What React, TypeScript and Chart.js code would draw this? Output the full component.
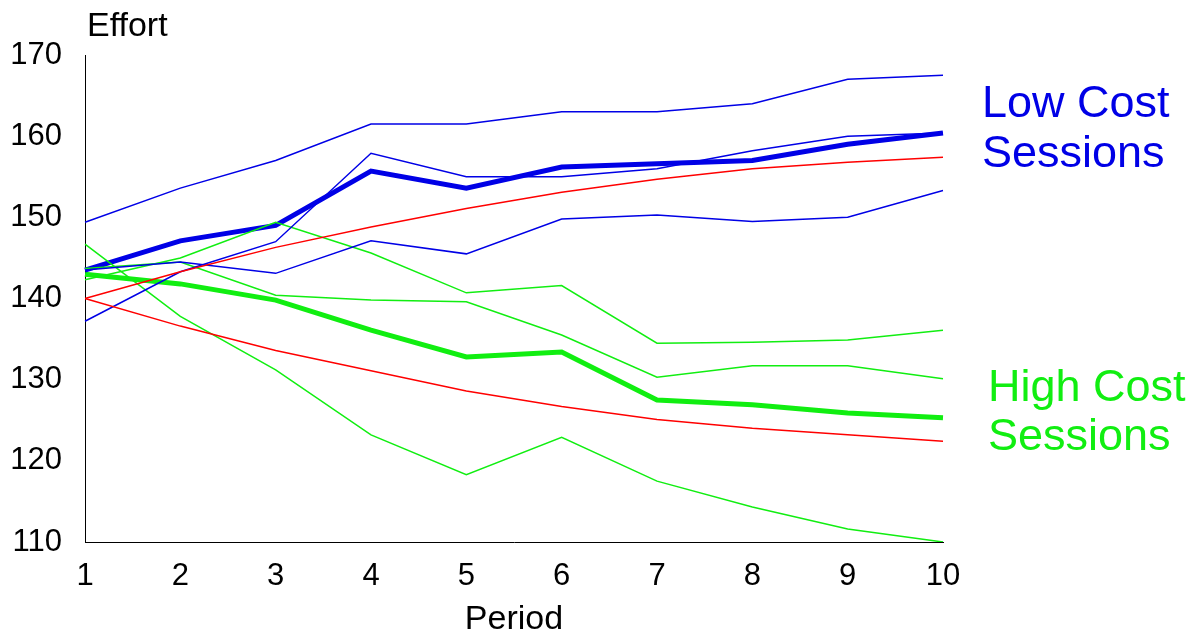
import React, { useEffect, useRef } from "react";
import { Chart, registerables } from "chart.js";
Chart.register(...registerables);

const periods = ["1", "2", "3", "4", "5", "6", "7", "8", "9", "10"];
const lowAvg = [143.5, 147.1, 149, 155.7, 153.6, 156.2, 156.6, 157, 159, 160.4];
const low1 = [149.4, 153.6, 157, 161.5, 161.5, 163, 163, 164, 167, 167.5];
const low2 = [137.2, 143.3, 147, 157.9, 155, 155, 156, 158.2, 160, 160.4];
const low3 = [143.5, 144.5, 143.1, 147.1, 145.5, 149.8, 150.3, 149.5, 150, 153.3];
const redUp = [140, 143.3, 146.3, 148.8, 151.1, 153.1, 154.7, 156, 156.8, 157.4];
const redLow = [140, 136.6, 133.6, 131.1, 128.6, 126.7, 125.1, 124, 123.2, 122.4];
const highAvg = [143, 141.8, 139.8, 136.1, 132.8, 133.4, 127.5, 126.9, 125.9, 125.3];
const high1 = [146.7, 137.8, 131.2, 123.2, 118.3, 122.9, 117.5, 114.3, 111.6, 110];
const high2 = [142.3, 145, 149.4, 145.6, 140.7, 141.6, 134.5, 134.6, 134.9, 136.1];
const high3 = [143.7, 144.5, 140.4, 139.8, 139.6, 135.5, 130.3, 131.7, 131.7, 130.1];

const BLUE = "#0000e6";
const GREEN = "#11ee11";
const RED = "#ff0000";
const FONT = "'Liberation Sans', Arial, sans-serif";

export default function App() {
  const ref = useRef<HTMLCanvasElement>(null);
  useEffect(() => {
    document.body.style.margin = "0";
    const ds = (data: number[], color: string, w: number) => ({
      data, borderColor: color, borderWidth: w, pointRadius: 0, fill: false, tension: 0,
    });
    const textPlugin = {
      id: "texts",
      afterDraw(c: any) {
        const ctx = c.ctx;
        const a = c.chartArea;
        ctx.save();
        ctx.fillStyle = "#000";
        ctx.font = `34px ${FONT}`;
        ctx.textBaseline = "middle";
        ctx.fillText("Effort", 87, 27);
        ctx.textAlign = "center";
        ctx.fillText("Period", (a.left + a.right) / 2, 620);
        ctx.textAlign = "left";
        ctx.font = `45px ${FONT}`;
        ctx.fillStyle = BLUE;
        ctx.fillText("Low Cost", 982, 105);
        ctx.fillText("Sessions", 982, 155);
        ctx.fillStyle = GREEN;
        ctx.fillText("High Cost", 988, 389);
        ctx.fillText("Sessions", 988, 438);
        ctx.restore();
      },
    };
    const chart = new Chart(ref.current!, {
      type: "line",
      data: {
        labels: periods,
        datasets: [
          ds(redUp, RED, 1.5), ds(redLow, RED, 1.5),
          ds(low1, BLUE, 1.5), ds(low2, BLUE, 1.5), ds(low3, BLUE, 1.5),
          ds(high1, GREEN, 1.5), ds(high2, GREEN, 1.5), ds(high3, GREEN, 1.5),
          ds(lowAvg, BLUE, 5), ds(highAvg, GREEN, 5),
        ],
      },
      options: {
        animation: false,
        responsive: false,
        layout: { padding: { top: 55, right: 250, left: 0, bottom: 0 } },
        plugins: { legend: { display: false }, tooltip: { enabled: false } },
        scales: {
          x: {
            offset: false,
            grid: { display: false },
            border: { display: true, color: "#000", width: 1 },
            ticks: { color: "#000", font: { size: 31, family: FONT }, padding: 8, maxRotation: 0 },
            afterFit: (s: any) => { s.height = 94; },
          },
          y: {
            min: 110, max: 170,
            grid: { display: false },
            border: { display: true, color: "#000", width: 1 },
            ticks: { stepSize: 10, color: "#000", font: { size: 31, family: FONT }, padding: 15 },
            afterFit: (s: any) => { s.width = 85; },
          },
        },
      },
      plugins: [textPlugin],
    });
    return () => chart.destroy();
  }, []);
  return <canvas ref={ref} width={1193} height={636} style={{ display: "block" }} />;
}
